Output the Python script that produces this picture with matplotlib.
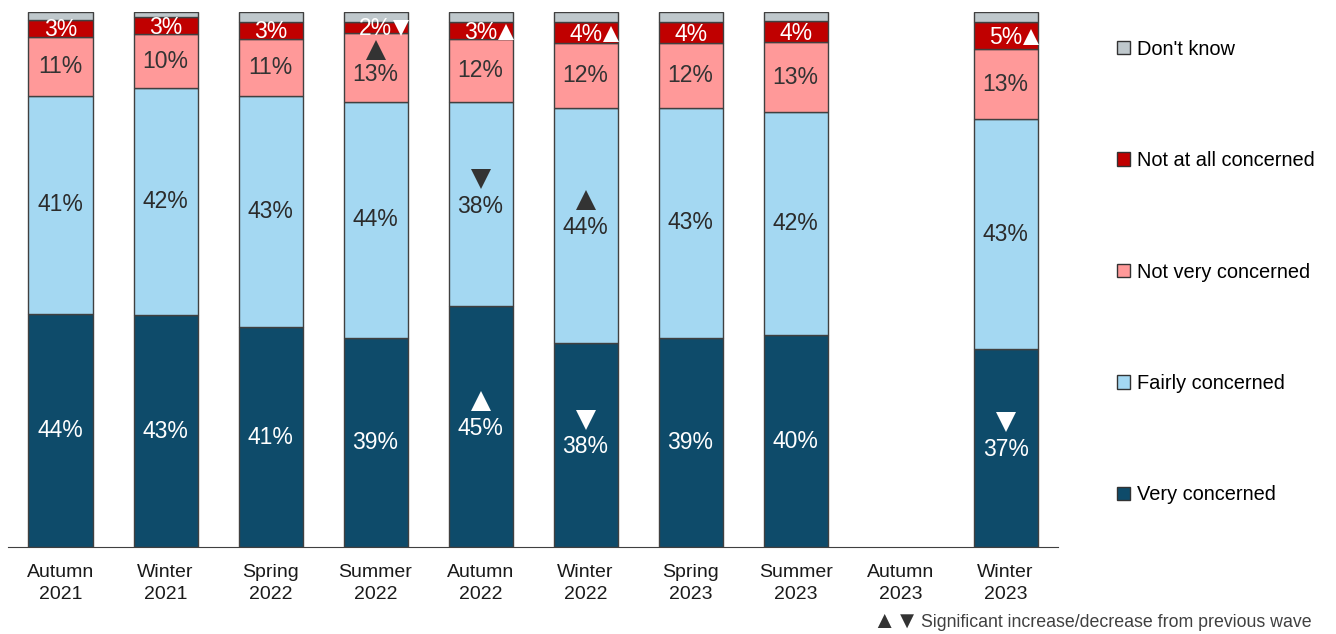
import numpy as np
import matplotlib.pyplot as plt
from matplotlib.patches import Patch

plt.rcParams['font.family'] = ['Liberation Sans', 'DejaVu Sans']

# Waves (Autumn 2023 has no data)
waves = ["Autumn\n2021", "Winter\n2021", "Spring\n2022", "Summer\n2022", "Autumn\n2022",
         "Winter\n2022", "Spring\n2023", "Summer\n2023", "Autumn\n2023", "Winter\n2023"]

# Shares in %
very_concerned = [43.6, 43.4, 41.1, 39.1, 45.0, 38.1, 39.1, 39.6, np.nan, 37.0]
fairly_concerned = [40.8, 42.4, 43.2, 44.1, 38.1, 44.0, 43.0, 41.7, np.nan, 43.0]
not_very_concerned = [11.0, 10.1, 10.7, 12.9, 11.8, 12.1, 12.1, 13.1, np.nan, 13.1]
not_at_all_concerned = [3.2, 3.2, 3.2, 2.1, 3.2, 3.9, 3.9, 3.9, np.nan, 5.0]
dont_know = [1.4, 0.9, 1.8, 1.8, 1.9, 1.9, 1.9, 1.7, np.nan, 1.9]

# Significant changes from previous wave: (wave index, series, direction)
sig_changes = [
    (3, "Not very concerned", "up"), (3, "Not at all concerned", "down"),
    (4, "Very concerned", "up"), (4, "Fairly concerned", "down"), (4, "Not at all concerned", "up"),
    (5, "Very concerned", "down"), (5, "Fairly concerned", "up"), (5, "Not at all concerned", "up"),
    (9, "Very concerned", "down"), (9, "Not at all concerned", "up"),
]

series = [
    ("Very concerned", very_concerned, "#0E4B6A", "white"),
    ("Fairly concerned", fairly_concerned, "#A4D8F2", "#2b2b2b"),
    ("Not very concerned", not_very_concerned, "#FF9999", "#333333"),
    ("Not at all concerned", not_at_all_concerned, "#C00000", "white"),
    ("Don't know", dont_know, "#BFC8CC", None),
]

fig = plt.figure(figsize=(13.36, 6.34), dpi=100)
ax = fig.add_axes([0.006, 0.137, 0.786, 0.844])

x = np.arange(len(waves))
bottom = np.zeros(len(waves))
mids = {}
heights = {}
handles = []
for name, vals, color, txt_color in series:
    vals = np.array(vals, dtype=float)
    ax.bar(x, vals, 0.61, bottom=bottom, color=color, edgecolor="#404040", linewidth=1)
    mids[name] = bottom + vals / 2
    heights[name] = vals
    if txt_color is not None:
        for i, v in enumerate(vals):
            if np.isnan(v):
                continue
            y = mids[name][i]
            flagged = any(c[0] == i and c[1] == name for c in sig_changes)
            if flagged and name in ("Very concerned", "Fairly concerned"):
                y -= 0.3
            elif flagged and name == "Not very concerned":
                y -= 1.4
            elif name == "Not at all concerned":
                y -= 0.3
            ax.text(x[i], y, f"{v:.0f}%", ha="center", va="center",
                    fontsize=16.5, color=txt_color)
    bottom = bottom + np.nan_to_num(vals)
    handles.append(Patch(facecolor=color, edgecolor="#333333", linewidth=1, label=name))

# Significance triangles
for i, name, direction in sig_changes:
    marker = "^" if direction == "up" else "v"
    if name == "Not at all concerned":
        ax.plot(x[i] + 0.24, mids[name][i] - 0.2, marker=marker, color="white",
                markersize=12, markeredgewidth=0, clip_on=False)
    else:
        col = "white" if name == "Very concerned" else "#333333"
        dy = 3.3 if heights[name][i] < 20 else 4.8
        ax.plot(x[i], mids[name][i] + dy, marker=marker, color=col,
                markersize=14, markeredgewidth=0)

ax.set_xlim(-0.5, len(waves) - 0.5)
ax.set_ylim(0, 100)
ax.set_xticks(x)
ax.set_xticklabels(waves, fontsize=14, color="#1a1a1a", linespacing=1.4)
ax.tick_params(axis="x", length=0, pad=12)
ax.set_yticks([])
for side in ("top", "right", "left"):
    ax.spines[side].set_visible(False)
ax.spines["bottom"].set_color("#404040")

fig.legend(handles=handles[::-1], loc="upper left", bbox_to_anchor=(0.83, 0.95),
           frameon=False, fontsize=14.4, handlelength=0.65, handleheight=0.65,
           handletextpad=0.35, labelspacing=4.62, borderaxespad=0)

# Footnote key
fig.text(0.653, 0.002, "\u25b2\u25bc", fontsize=17, color="#333333", ha="left", va="bottom")
fig.text(0.689, 0.004, "Significant increase/decrease from previous wave",
         fontsize=12.8, color="#404040", ha="left", va="bottom")

fig.savefig("out.png", dpi=100)
